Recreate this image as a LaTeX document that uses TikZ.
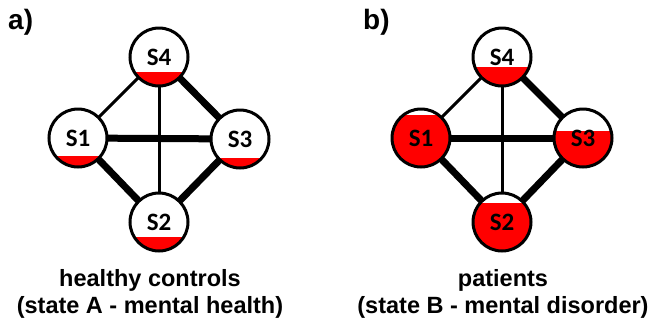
\documentclass[tikz,border=0pt]{standalone}
\usepackage{fontspec}
\setmainfont{Liberation Sans}
\newfontfamily\carlito{Carlito}
\usetikzlibrary{backgrounds}
\definecolor{redfill}{RGB}{255,0,0}
\tikzset{
  st/.style={circle, draw=black, line width=3pt, minimum size=58pt, inner sep=0pt, fill=white,
    font=\carlito\bfseries\fontsize{25}{25}\selectfont},
  lvl/.style={path picture={\fill[redfill] ([shift={(-40,#1)}]path picture bounding box.center) rectangle ([shift={(40,40)}]path picture bounding box.center);}},
  thin edge/.style={line width=3pt, draw=black},
  thick edge/.style={line width=7pt, draw=black},
  captext/.style={font=\bfseries\fontsize{23.5}{23.5}\selectfont, anchor=base, inner sep=0pt},
  panel/.style={font=\bfseries\fontsize{28}{28}\selectfont, anchor=base west, inner sep=0pt}
}
\begin{document}
\begin{tikzpicture}[x=1pt,y=-1pt]
\useasboundingbox (0,0) rectangle (653,322);
% panel a
\node[panel] (la) at (8,29) {a)};
\node[st, lvl=15] (a4) at (159,57) {S4};
\node[st, lvl=18] (a1) at (78,138) {S1};
\node[st, lvl=19] (a3) at (240,139) {S3};
\node[st, lvl=15] (a2) at (159,222) {S2};
\node[captext] (ca1) at (150,286) {healthy controls};
\node[captext] (ca2) at (150,313) {(state A - mental health)};
% panel b
\node[panel] (lb) at (363,29) {b)};
\node[st, lvl=10] (b4) at (502,57) {S4};
\node[st, lvl=-23] (b1) at (421,138) {S1};
\node[st, lvl=-7] (b3) at (583,138) {S3};
\node[st, lvl=-19] (b2) at (502,222) {S2};
\node[captext] (cb1) at (503,286) {patients};
\node[captext] (cb2) at (503,313) {(state B - mental disorder)};
\begin{pgfonlayer}{background}
\draw[thin edge] (a1.center) -- (a4.center);
\draw[thin edge] (a4.center) -- (a2.center);
\draw[thick edge] (a4.center) -- (a3.center);
\draw[thick edge] (a1.center) -- (a3.center);
\draw[thick edge] (a1.center) -- (a2.center);
\draw[thick edge] (a3.center) -- (a2.center);
\draw[thin edge] (b1.center) -- (b4.center);
\draw[thin edge] (b4.center) -- (b2.center);
\draw[thick edge] (b4.center) -- (b3.center);
\draw[thick edge] (b1.center) -- (b3.center);
\draw[thick edge] (b1.center) -- (b2.center);
\draw[thick edge] (b3.center) -- (b2.center);
\end{pgfonlayer}
\end{tikzpicture}
\end{document}
